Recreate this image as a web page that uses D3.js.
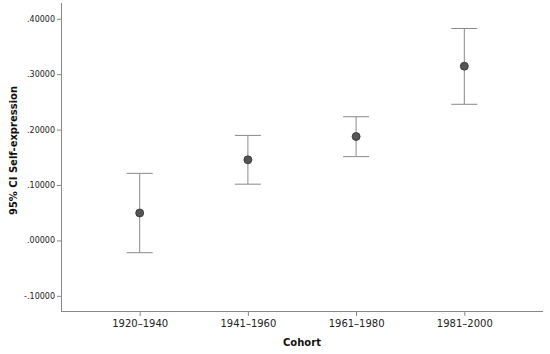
<!DOCTYPE html>
<html><head><meta charset="utf-8">
<script src="https://cdn.jsdelivr.net/npm/d3@7"></script>
<style>body{margin:0;background:#fff}</style>
</head><body>
<svg id="c" width="550" height="354"></svg>
<script>
const categories = ["1920\u20131940", "1941\u20131960", "1961\u20131980", "1981\u20132000"];
const means = [0.0495, 0.1455, 0.1875, 0.3145];
const lower = [-0.0222, 0.1015, 0.1512, 0.2457];
const upper = [0.1210, 0.1895, 0.2232, 0.3825];
const yTicks = [-0.1, 0.0, 0.1, 0.2, 0.3, 0.4];

(function(){
const svg = d3.select("#c");
const pL = 61, pR = 543, pT = 3, pB = 311;

const x = d3.scalePoint().domain(categories).range([pL, pR]).padding(0.727);
const y = d3.scaleLinear().domain([-0.1274, 0.4285]).range([pB, pT]);

const fmt = v => {
  const s = Math.abs(v).toFixed(5).replace(/^0/, "");
  return (v < -1e-9 ? "-" : "") + s;
};

// y axis
const ya = svg.append("g").attr("transform", `translate(${pL},0)`)
  .call(d3.axisLeft(y).tickValues(yTicks).tickFormat(fmt).tickSize(4).tickPadding(2));
ya.select(".domain").attr("stroke", "#888").attr("d", `M0.5,${pB}V${pT}`);
ya.selectAll(".tick line").attr("stroke", "#888");
ya.selectAll(".tick text").attr("font-family", "DejaVu Sans").attr("font-size", 8).attr("fill", "#222");

// x axis
const xa = svg.append("g").attr("transform", `translate(0,${pB})`)
  .call(d3.axisBottom(x).tickSize(5).tickPadding(4));
xa.select(".domain").attr("stroke", "#888").attr("d", `M${pL},0.5H${pR}`);
xa.selectAll(".tick line").attr("stroke", "#888");
xa.selectAll(".tick text").attr("font-family", "DejaVu Sans").attr("font-size", 10).attr("fill", "#222");

// error bars
const data = categories.map((c, i) => ({c, m: means[i], lo: lower[i], hi: upper[i]}));
const g = svg.append("g");
const cap = 13;
g.selectAll("line.v").data(data).join("line").attr("class", "v")
  .attr("x1", d => x(d.c)).attr("x2", d => x(d.c))
  .attr("y1", d => y(d.lo)).attr("y2", d => y(d.hi))
  .attr("stroke", "#8a8a8a").attr("stroke-width", 1);
g.selectAll("line.hi").data(data).join("line").attr("class", "hi")
  .attr("x1", d => x(d.c) - cap).attr("x2", d => x(d.c) + cap)
  .attr("y1", d => y(d.hi)).attr("y2", d => y(d.hi))
  .attr("stroke", "#8a8a8a").attr("stroke-width", 1);
g.selectAll("line.lo").data(data).join("line").attr("class", "lo")
  .attr("x1", d => x(d.c) - cap).attr("x2", d => x(d.c) + cap)
  .attr("y1", d => y(d.lo)).attr("y2", d => y(d.lo))
  .attr("stroke", "#8a8a8a").attr("stroke-width", 1);
g.selectAll("circle").data(data).join("circle")
  .attr("cx", d => x(d.c)).attr("cy", d => y(d.m)).attr("r", 4)
  .attr("fill", "#555").attr("stroke", "#333").attr("stroke-width", 0.8);

// titles
svg.append("text").attr("x", (pL + pR) / 2).attr("y", 345.5)
  .attr("text-anchor", "middle").attr("font-family", "DejaVu Sans")
  .attr("font-weight", "bold").attr("font-size", 10).attr("fill", "#111").text("Cohort");
svg.append("text").attr("transform", "translate(16.5,150.5) rotate(-90)")
  .attr("text-anchor", "middle").attr("font-family", "DejaVu Sans")
  .attr("font-weight", "bold").attr("font-size", 10).attr("fill", "#111").text("95% CI Self-expression");
})();
</script>
</body></html>
